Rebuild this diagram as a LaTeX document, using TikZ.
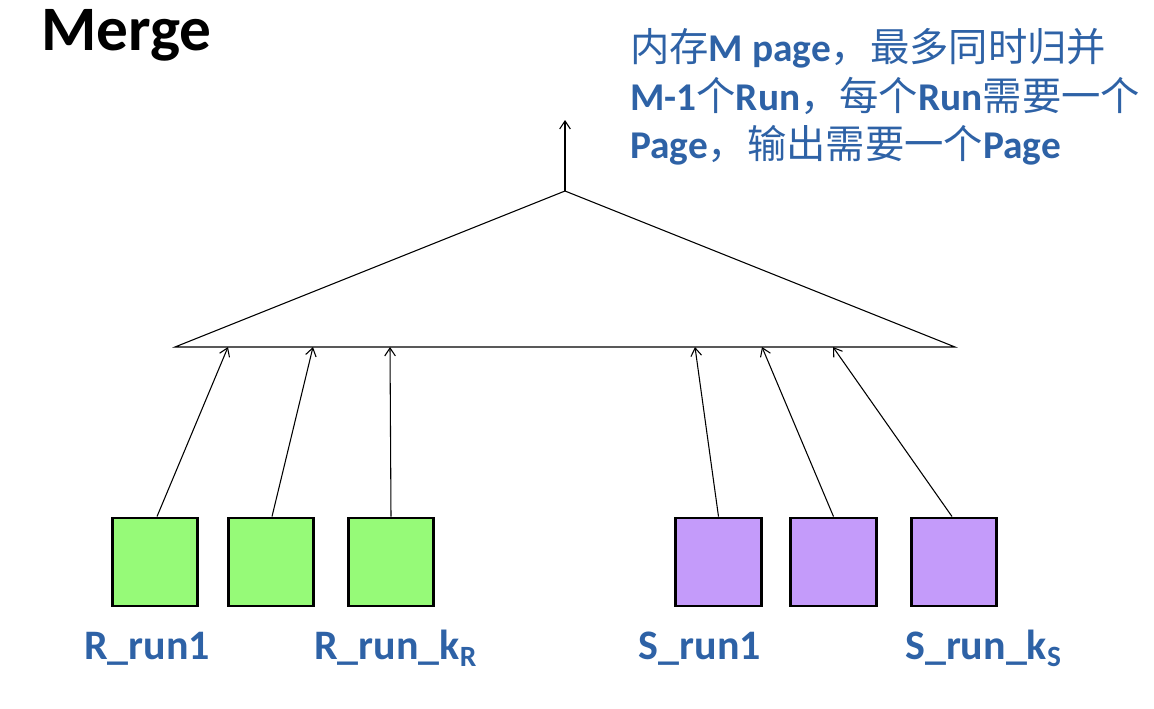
\documentclass[tikz,border=0pt]{standalone}
\usepackage{fontspec}
\setmainfont{Carlito}
\newfontfamily\cjk{Noto Sans CJK SC}
\usetikzlibrary{arrows.meta}

\definecolor{noteblue}{RGB}{46,98,166}
\definecolor{rgreen}{RGB}{150,250,120}
\definecolor{spurple}{RGB}{196,155,250}

\tikzset{
  runbox/.style={draw=black, line width=2.2pt, minimum width=64pt, minimum height=66pt, inner sep=0pt},
  runlabel/.style={text=noteblue, font=\bfseries\fontsize{31.5}{36}\selectfont, inner sep=0pt},
  noteline/.style={text=noteblue, font=\bfseries\fontsize{29.5}{36}\selectfont, inner sep=0pt, anchor=base west},
  feed/.style={line width=0.8pt, -{Straight Barb[length=6pt,width=8pt]}}
}

\begin{document}
\begin{tikzpicture}[x=0.75pt,y=-0.75pt]
  \useasboundingbox (0,0) rectangle (1154,708);

  % title
  \node[anchor=base west, inner sep=0pt, font=\bfseries\fontsize{47.5}{54}\selectfont] (title) at (41,50) {Merge};

  % note
  \node[noteline] (n1) at (630,61) {{\cjk\mdseries 内存}M page{\cjk\mdseries ，最多同时归并}};
  \node[noteline] (n2) at (630,110) {M-1{\cjk\mdseries 个}Run{\cjk\mdseries ，每个}Run{\cjk\mdseries 需要一个}};
  \node[noteline] (n3) at (630,158) {Page{\cjk\mdseries ，输出需要一个}Page};

  % merge triangle
  \coordinate (apex) at (565,191);
  \coordinate (bl) at (175,347);
  \coordinate (br) at (955,347);
  \coordinate (out) at (565,120);
  \draw[line width=0.8pt] (bl) -- (apex) -- (br) -- cycle;
  \draw[feed] (apex) -- (out);

  % input runs
  \node[runbox, fill=rgreen] (r1) at (155,562) {};
  \node[runbox, fill=rgreen] (r2) at (271,562) {};
  \node[runbox, fill=rgreen] (r3) at (391,562) {};
  \node[runbox, fill=spurple] (s1) at (718.5,562) {};
  \node[runbox, fill=spurple] (s2) at (833.5,562) {};
  \node[runbox, fill=spurple] (s3) at (954,562) {};

  \coordinate (ir1) at (228,347);
  \coordinate (ir2) at (313,347);
  \coordinate (ir3) at (390,347);
  \coordinate (is1) at (695,347);
  \coordinate (is2) at (762,347);
  \coordinate (is3) at (833,347);

  \draw[feed] ([xshift=1.5pt]r1.north) -- (ir1);
  \draw[feed] ([xshift=0.75pt]r2.north) -- (ir2);
  \draw[feed] (r3.north) -- (ir3);
  \draw[feed] (s1.north) -- (is1);
  \draw[feed] (s2.north) -- (is2);
  \draw[feed] ([xshift=-1.5pt]s3.north) -- (is3);

  % labels
  \node[runlabel, anchor=base] (lr1) at (147,659) {R\_run1};
  \node[runlabel, anchor=base west] (lr3) at (314,659) {R\_run\_k\textsubscript{R}};
  \node[runlabel, anchor=base] (ls1) at (700,659) {S\_run1};
  \node[runlabel, anchor=base west] (ls3) at (905,659) {S\_run\_k\textsubscript{S}};
\end{tikzpicture}
\end{document}
